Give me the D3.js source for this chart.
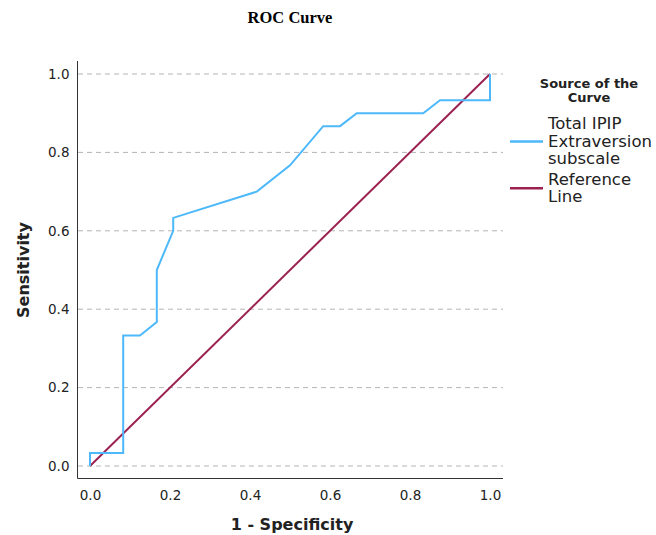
<!DOCTYPE html>
<html>
<head>
<meta charset="utf-8">
<script src="https://cdn.jsdelivr.net/npm/d3@7"></script>
<style>
  body { margin: 0; background: #fff; }
  text { font-family: "DejaVu Sans", sans-serif; }
</style>
</head>
<body>
<svg id="chart" width="656" height="535"></svg>
<script>
// ROC curve points (1 - specificity, sensitivity)
const fpr = [0, 0, 0.083, 0.083, 0.125, 0.167, 0.167, 0.208, 0.208, 0.417, 0.5, 0.583, 0.625, 0.667, 0.833, 0.875, 1, 1];
const tpr = [0, 0.033, 0.033, 0.333, 0.333, 0.367, 0.5, 0.6, 0.633, 0.7, 0.767, 0.867, 0.867, 0.9, 0.9, 0.933, 0.933, 1];
const refLine = [[0, 0], [1, 1]];
const ticks = [0, 0.2, 0.4, 0.6, 0.8, 1.0];
const legendItems = [
  { lines: ['Total IPIP', 'Extraversion', 'subscale'], color: '#4db9fa' },
  { lines: ['Reference', 'Line'], color: '#9a2150' }
];

const svg = d3.select('#chart');

const x = d3.scaleLinear().domain([0, 1]).range([90, 490]);
const y = d3.scaleLinear().domain([0, 1]).range([466, 74]);

// title
svg.append('text')
  .attr('x', 290).attr('y', 23)
  .attr('text-anchor', 'middle')
  .style('font-family', '"Liberation Serif", serif')
  .style('font-weight', 'bold')
  .style('font-size', '16.5px')
  .text('ROC Curve');

// gridlines
svg.append('g')
  .selectAll('line')
  .data(ticks)
  .join('line')
  .attr('x1', 78).attr('x2', 503)
  .attr('y1', d => y(d)).attr('y2', d => y(d))
  .attr('stroke', '#b4b4b4')
  .attr('stroke-dasharray', '5,4')
  .attr('stroke-width', 1);

// axes
const xAxis = svg.append('g')
  .attr('transform', 'translate(0,478.5)')
  .call(d3.axisBottom(x).tickValues(ticks).tickFormat(d3.format('.1f')).tickSize(0).tickPadding(12));
xAxis.select('.domain').attr('d', 'M77.5,0H503').attr('stroke', '#333');
xAxis.selectAll('text').style('font-size', '13.5px').attr('fill', '#222');

const yAxis = svg.append('g')
  .attr('transform', 'translate(77.5,0)')
  .call(d3.axisLeft(y).tickValues(ticks).tickFormat(d3.format('.1f')).tickSize(0).tickPadding(8));
yAxis.select('.domain').attr('d', 'M0,61V478.5').attr('stroke', '#333');
yAxis.selectAll('text').style('font-size', '13.5px').attr('fill', '#222');

// axis titles
svg.append('text')
  .attr('x', 292).attr('y', 530)
  .attr('text-anchor', 'middle')
  .style('font-weight', 'bold')
  .style('font-size', '16px')
  .attr('fill', '#222')
  .text('1 - Specificity');

svg.append('text')
  .attr('transform', 'translate(29,270) rotate(-90)')
  .attr('text-anchor', 'middle')
  .style('font-weight', 'bold')
  .style('font-size', '16px')
  .attr('fill', '#222')
  .text('Sensitivity');

// reference line
svg.append('path')
  .datum(refLine)
  .attr('d', d3.line().x(d => x(d[0])).y(d => y(d[1])))
  .attr('fill', 'none')
  .attr('stroke', legendItems[1].color)
  .attr('stroke-width', 2);

// ROC curve
const rocPts = fpr.map((f, i) => [f, tpr[i]]);
svg.append('path')
  .datum(rocPts)
  .attr('d', d3.line().x(d => x(d[0])).y(d => y(d[1])))
  .attr('fill', 'none')
  .attr('stroke', legendItems[0].color)
  .attr('stroke-width', 2);

// legend
const legend = svg.append('g');
legend.append('text')
  .attr('x', 589).attr('y', 88)
  .attr('text-anchor', 'middle')
  .style('font-weight', 'bold')
  .style('font-size', '13px')
  .attr('fill', '#222')
  .selectAll('tspan')
  .data(['Source of the', 'Curve'])
  .join('tspan')
  .attr('x', 589)
  .attr('dy', (d, i) => i === 0 ? 0 : 14)
  .text(d => d);

let ly = 129;
legendItems.forEach(item => {
  const n = item.lines.length;
  const midY = ly + (n - 1) * 17.5 / 2 - 5;
  legend.append('line')
    .attr('x1', 510).attr('x2', 543)
    .attr('y1', midY).attr('y2', midY)
    .attr('stroke', item.color)
    .attr('stroke-width', 2.5);
  legend.append('text')
    .attr('x', 548).attr('y', ly)
    .style('font-size', '16.5px')
    .attr('fill', '#222')
    .selectAll('tspan')
    .data(item.lines)
    .join('tspan')
    .attr('x', 548)
    .attr('dy', (d, i) => i === 0 ? 0 : 17.5)
    .text(d => d);
  ly += n * 17.5 + 3;
});
</script>
</body>
</html>
